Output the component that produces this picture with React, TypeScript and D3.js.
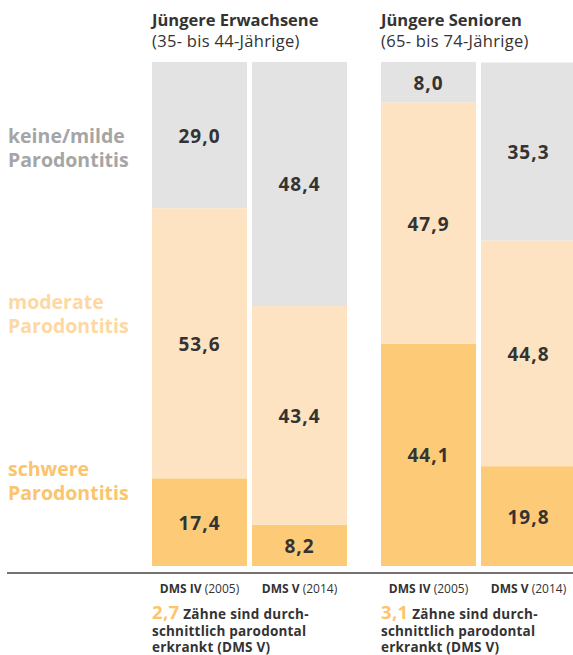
import * as d3 from "d3";

const groups = ["Jüngere Erwachsene", "Jüngere Senioren"];
const groupSub = ["(35- bis 44-Jährige)", "(65- bis 74-Jährige)"];
const surveys = ["DMS IV", "DMS V"];
const surveyYears = ["(2005)", "(2014)"];
const categories = ["schwere", "moderate", "keine"];
const catLabels = [
  ["schwere", "Parodontitis"],
  ["moderate", "Parodontitis"],
  ["keine/milde", "Parodontitis"],
];

// values per group, per survey: [schwere, moderate, keine/milde]
const schwere = [17.4, 8.2, 44.1, 19.8];
const moderate = [53.6, 43.4, 47.9, 44.8];
const keine = [29.0, 48.4, 8.0, 35.3];

const teethValues = ["2,7", "3,1"];
const teethText = ["Zähne sind durch-", "schnittlich parodontal", "erkrankt (DMS V)"];

const W = 573;
const H = 655;
const FONT = "'Open Sans', sans-serif";
const fills = ["#fdcb77", "#fde3c1", "#e3e3e3"];
const labelColors = ["#fcc46c", "#fdd8a4", "#a5a5a5"];
const dark = "#333";

export default function App() {
  const x0 = d3.scaleBand().domain(groups).range([152, 576]).paddingInner(34 / 229).paddingOuter(0);
  const x1 = d3.scaleBand().domain(surveys).range([0, x0.bandwidth()]).paddingInner(0.05).paddingOuter(0);
  const y = d3.scaleLinear().domain([0, 100]).range([566, 62]);

  const rows = groups.flatMap((g, gi) =>
    surveys.map((s, si) => {
      const i = gi * 2 + si;
      return { g, s, gi, si, schwere: schwere[i], moderate: moderate[i], keine: keine[i] };
    })
  );
  const stacked = d3.stack<any>().keys(categories)(rows);

  // baseline of first legend line for each category
  const legendY = [476, 309, 143];
  const noteY = [619, 635.5, 652];

  return (
    <div style={{ position: "absolute", left: 0, top: 0 }}>
      <svg width={W} height={H} style={{ display: "block", fontFamily: FONT }}>
        <rect width={W} height={H} fill="#fff" />
        {groups.map((g, gi) => (
          <g key={g} transform={`translate(${x0(g)},0)`}>
            <text x={0} y={26} fontSize={16.5} fontWeight={700} fill={dark}>
              {g}
            </text>
            <text x={0} y={47} fontSize={16.5} fill={dark} letterSpacing={0.3}>
              {groupSub[gi]}
            </text>
          </g>
        ))}
        {stacked.map((layer, li) =>
          layer.map((d, di) => {
            const r = rows[di];
            const bx = (x0(r.g) as number) + (x1(r.s) as number);
            const top = y(d[1]);
            const bot = y(d[0]);
            return (
              <g key={`${li}-${di}`}>
                <rect x={bx} y={top} width={x1.bandwidth()} height={bot - top} fill={fills[li]} />
                <text
                  x={bx + x1.bandwidth() / 2}
                  y={(top + bot) / 2 + 7.5}
                  textAnchor="middle"
                  fontSize={19}
                  fontWeight={700}
                  fill={dark}
                  letterSpacing={1}
                >
                  {d3.format(".1f")(d[1] - d[0]).replace(".", ",")}
                </text>
              </g>
            );
          })
        )}
        {catLabels.map((lines, li) => (
          <text key={li} x={8} y={legendY[li]} fontSize={19.5} fontWeight={700} fill={labelColors[li]}>
            {lines.map((t, k) => (
              <tspan key={k} x={8} dy={k === 0 ? 0 : 24}>
                {t}
              </tspan>
            ))}
          </text>
        ))}
        <line x1={7} x2={W} y1={573} y2={573} stroke="#444" strokeWidth={1.5} />
        {rows.map((r) => (
          <text
            key={`l-${r.g}-${r.s}`}
            x={(x0(r.g) as number) + (x1(r.s) as number) + x1.bandwidth() / 2}
            y={593}
            textAnchor="middle"
            fontSize={12}
            fill={dark}
          >
            <tspan fontWeight={700}>{r.s}</tspan> {surveyYears[r.si]}
          </text>
        ))}
        {groups.map((g, gi) => (
          <g key={`n-${g}`} transform={`translate(${x0(g)},0)`}>
            <text x={0} y={noteY[0]} fontWeight={700} fill={dark} fontSize={13.5} letterSpacing={0.3}>
              <tspan fontSize={18.5} fill="#fdc46c">{teethValues[gi]}</tspan> {teethText[0]}
            </text>
            <text x={0} y={noteY[1]} fontWeight={700} fill={dark} fontSize={13.5} letterSpacing={0.2}>
              {teethText[1]}
            </text>
            <text x={0} y={noteY[2]} fontWeight={700} fill={dark} fontSize={13.5} letterSpacing={0.2}>
              {teethText[2]}
            </text>
          </g>
        ))}
      </svg>
    </div>
  );
}
